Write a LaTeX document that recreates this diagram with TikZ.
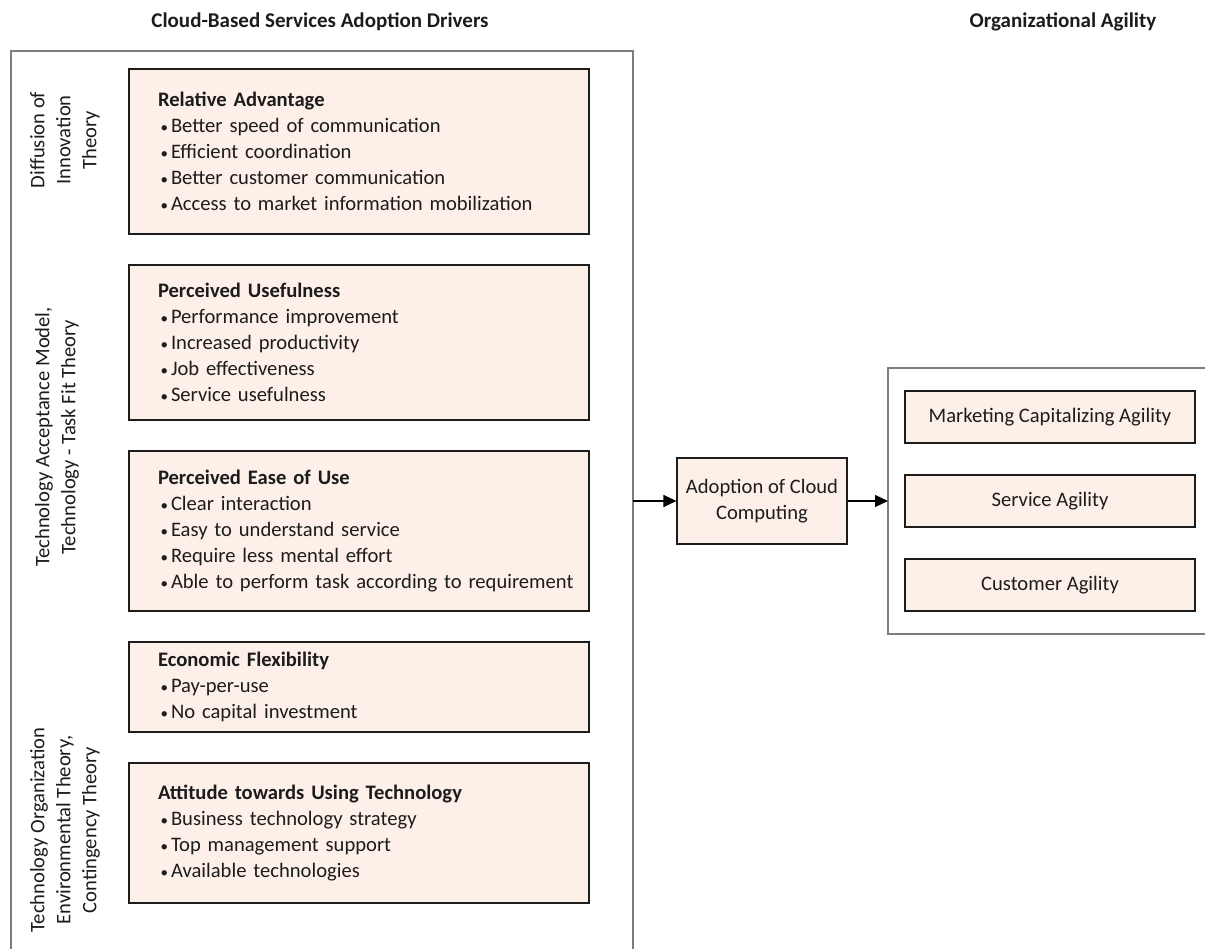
\documentclass[tikz,border=0pt]{standalone}
\usepackage{fontspec}
\setmainfont{Carlito}
\usetikzlibrary{arrows.meta,positioning}
\definecolor{peach}{RGB}{253,240,233}
\definecolor{framegray}{RGB}{125,125,125}
\definecolor{ink}{RGB}{28,28,28}
\newcommand{\hd}[1]{\hspace*{27pt}\textbf{#1}}
\newcommand{\itm}{\\\hspace*{27pt}\makebox[13pt][l]{\hspace{2.5pt}\fontsize{15}{15}\selectfont\textbullet}}

\begin{document}
\begin{tikzpicture}[x=1pt,y=-1pt,
  font=\fontsize{20.6}{26}\selectfont,text=ink,
  heading/.style={font=\fontsize{21}{26}\selectfont\bfseries},
  driver/.style={draw=ink,line width=1.1pt,fill=peach,text width=456pt,
    inner xsep=2pt,inner ysep=0pt,align=left},
  agility/.style={draw=ink,line width=1.1pt,fill=peach,minimum width=290pt,
    minimum height=52pt,inner sep=0pt,align=center},
  theory/.style={rotate=90,align=center,inner sep=0pt}]
 \useasboundingbox (0,0) rectangle (1205,949);
 \node[heading] (drvtitle) at (320,22) {Cloud-Based Services Adoption Drivers};
 \node[heading] (agltitle) at (1063,22) {Organizational Agility};
 \draw[framegray,line width=1.2pt] (633,949) |- (11,51) -- (11,949);
 \draw[framegray,line width=1.2pt] (1205,368) -| (888,634) -- (1205,634);
 \node[driver,minimum height=165pt] (reladv) at (359,151.5)
   {\hd{Relative Advantage}\itm Better speed of communication
    \itm Efficient coordination\itm Better customer communication
    \itm Access to market information mobilization};
 \node[driver,minimum height=155pt] (useful) at (359,342.5)
   {\hd{Perceived Usefulness}\itm Performance improvement
    \itm Increased productivity\itm Job effectiveness\itm Service usefulness};
 \node[driver,minimum height=160pt] (ease) at (359,531)
   {\hd{Perceived Ease of Use}\itm Clear interaction
    \itm Easy to understand service\itm Require less mental effort
    \itm Able to perform task according to requirement};
 \node[driver,minimum height=90pt] (econ) at (359,687)
   {\hd{Economic Flexibility}\itm Pay-per-use\itm No capital investment};
 \node[driver,minimum height=140pt] (attit) at (359,833)
   {\hd{Attitude towards Using Technology}\itm Business technology strategy
    \itm Top management support\itm Available technologies};
 \node[theory] (dit) at (65,140) {Diffusion of\\Innovation\\Theory};
 \node[theory] (tam) at (57,437) {Technology Acceptance Model,\\Technology - Task Fit Theory};
 \node[theory] (toe) at (65,830) {Technology Organization\\Environmental Theory,\\Contingency Theory};
 \node[draw=ink,line width=1.1pt,fill=peach,minimum width=170pt,minimum height=86pt,
   inner sep=0pt,align=center] (adopt) at (762,501) {Adoption of Cloud\\Computing};
 \node[agility] (market) at (1050,417) {Marketing Capitalizing Agility};
 \node[agility] (service) at (1050,501) {Service Agility};
 \node[agility] (customer) at (1050,585) {Customer Agility};
 \coordinate (drvout) at (633,501);
 \coordinate (aglin) at (888,501);
 \draw[line width=1.1pt,-{Triangle[length=13pt,width=12pt]}] (drvout) -- (adopt);
 \draw[line width=1.1pt,-{Triangle[length=13pt,width=12pt]}] (adopt) -- (aglin);
\end{tikzpicture}
\end{document}
